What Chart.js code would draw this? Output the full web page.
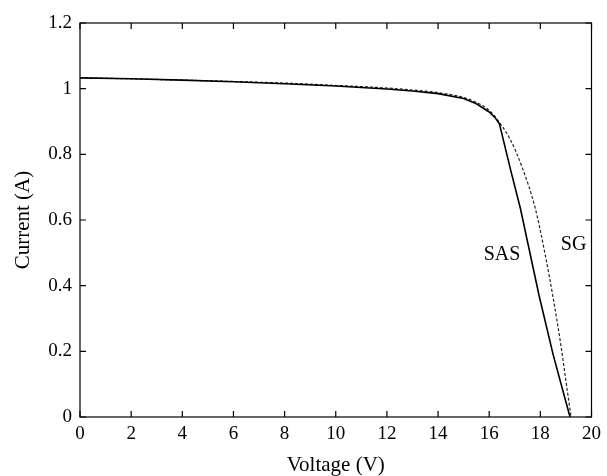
<!DOCTYPE html>
<html lang="en">
<head>
    <meta charset="UTF-8">
    <title>Current vs Voltage</title>
    <script src="https://cdn.jsdelivr.net/npm/chart.js"></script>
    <style>
body {
    margin: 0;
    padding: 0;
    background-color: #ffffff;
}

#wrap {
    width: 607px;
    height: 476px;
}
    </style>
</head>
<body>

    <div id="wrap">
        <canvas id="ivChart" width="607" height="476"></canvas>
    </div>

    <script>
        // SAS model curve (solid)
        const sasVoltage = [0, 2, 4, 6, 8, 10, 12, 13, 14, 15, 15.5, 16, 16.25, 16.4, 16.83, 17.22, 17.95, 18.5, 18.95, 19.16];
        const sasCurrent = [1.033, 1.03, 1.026, 1.021, 1.015, 1.008, 0.999, 0.993, 0.985, 0.97, 0.954, 0.929, 0.91, 0.893, 0.755, 0.635, 0.37, 0.19, 0.06, 0];

        // SG measured curve (dashed)
        const sgVoltage = [0, 2, 4, 6, 8, 10, 12, 13, 14, 15, 15.5, 16, 16.4, 16.83, 17.28, 17.8, 18.2, 18.52, 18.8, 19.0, 19.2];
        const sgCurrent = [1.033, 1.03, 1.026, 1.022, 1.017, 1.01, 1.002, 0.996, 0.988, 0.973, 0.958, 0.934, 0.897, 0.844, 0.762, 0.636, 0.49, 0.354, 0.22, 0.11, 0];

        const xTicks = [0, 2, 4, 6, 8, 10, 12, 14, 16, 18, 20];
        const yTicks = [0, 0.2, 0.4, 0.6, 0.8, 1, 1.2];

        // curve labels: [text, voltage, current]
        const curveLabels = [["SAS", 16.5, 0.493], ["SG", 19.3, 0.524]];

        const serif = "'Liberation Serif', 'DejaVu Serif', serif";

        function toPoints(xs, ys) {
            return xs.map((x, i) => ({ x: x, y: ys[i] }));
        }

        // box + inward ticks + curve labels, like a matlab figure
        const boxPlugin = {
            id: "boxPlugin",
            afterDatasetsDraw(chart) {
                const ctx = chart.ctx;
                const a = chart.chartArea;
                const xs = chart.scales.x;
                const ys = chart.scales.y;
                const len = 6;
                ctx.save();
                ctx.strokeStyle = "#000";
                ctx.lineWidth = 1.2;
                ctx.strokeRect(a.left, a.top, a.right - a.left, a.bottom - a.top);
                ctx.beginPath();
                xTicks.forEach(v => {
                    const px = xs.getPixelForValue(v);
                    ctx.moveTo(px, a.bottom); ctx.lineTo(px, a.bottom - len);
                    ctx.moveTo(px, a.top); ctx.lineTo(px, a.top + len);
                });
                yTicks.forEach(v => {
                    const py = ys.getPixelForValue(v);
                    ctx.moveTo(a.left, py); ctx.lineTo(a.left + len, py);
                    ctx.moveTo(a.right, py); ctx.lineTo(a.right - len, py);
                });
                ctx.stroke();

                ctx.fillStyle = "#000";
                ctx.font = "20px " + serif;
                ctx.textAlign = "center";
                ctx.textBaseline = "middle";
                curveLabels.forEach(l => {
                    ctx.fillText(l[0], xs.getPixelForValue(l[1]), ys.getPixelForValue(l[2]));
                });
                ctx.restore();
            }
        };

        new Chart(document.getElementById("ivChart").getContext("2d"), {
            type: "line",
            data: {
                datasets: [
                    {
                        label: "SAS",
                        data: toPoints(sasVoltage, sasCurrent),
                        borderColor: "#000",
                        borderWidth: 1.6,
                        pointRadius: 0,
                        fill: false,
                        tension: 0
                    },
                    {
                        label: "SG",
                        data: toPoints(sgVoltage, sgCurrent),
                        borderColor: "#222",
                        borderWidth: 1.2,
                        borderDash: [3, 2],
                        pointRadius: 0,
                        fill: false,
                        cubicInterpolationMode: "monotone"
                    }
                ]
            },
            options: {
                responsive: false,
                animation: false,
                events: [],
                layout: { padding: { top: 23, right: 12, left: 0, bottom: 0 } },
                plugins: {
                    legend: { display: false },
                    tooltip: { enabled: false }
                },
                scales: {
                    x: {
                        type: "linear",
                        min: 0,
                        max: 20,
                        afterFit: s => { s.height = 59; },
                        afterBuildTicks: s => { s.ticks = xTicks.map(v => ({ value: v })); },
                        grid: { display: false, drawTicks: false },
                        border: { display: false },
                        ticks: {
                            color: "#000",
                            padding: 6,
                            maxRotation: 0,
                            font: { family: serif, size: 19 }
                        },
                        title: {
                            display: true,
                            text: "Voltage (V)",
                            color: "#000",
                            padding: { top: 0, bottom: 0 },
                            font: { family: serif, size: 21, lineHeight: 1 }
                        }
                    },
                    y: {
                        type: "linear",
                        min: 0,
                        max: 1.2,
                        afterFit: s => { s.width = 80; },
                        afterBuildTicks: s => { s.ticks = yTicks.map(v => ({ value: v })); },
                        grid: { display: false, drawTicks: false },
                        border: { display: false },
                        ticks: {
                            color: "#000",
                            padding: 8,
                            font: { family: serif, size: 19 },
                            callback: v => String(Math.round(v * 10) / 10)
                        },
                        title: {
                            display: true,
                            text: "Current (A)",
                            color: "#000",
                            padding: { top: 13, bottom: 0 },
                            font: { family: serif, size: 21, lineHeight: 1 }
                        }
                    }
                }
            },
            plugins: [boxPlugin]
        });
    </script>
</body>
</html>
